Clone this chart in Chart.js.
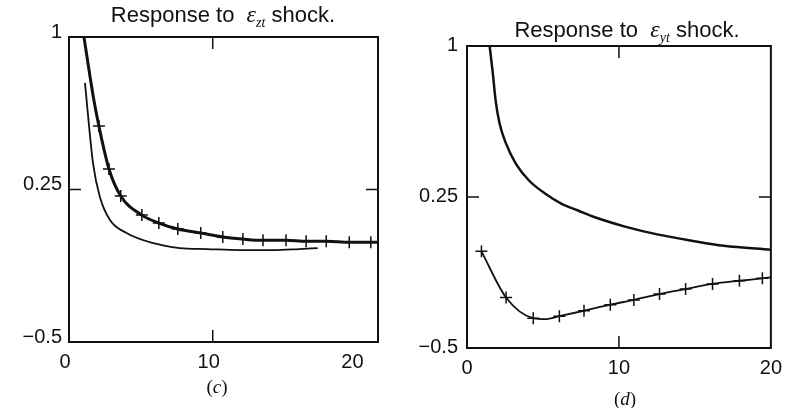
<!DOCTYPE html>
<html>
<head>
<meta charset="utf-8">
<script src="https://cdn.jsdelivr.net/npm/chart.js@4.4.1/dist/chart.umd.min.js"></script>
<style>
  html, body { margin: 0; padding: 0; background: #fff; }
  #wrap { position: relative; width: 790px; height: 408px; overflow: hidden; color: #111;
          font-family: "Liberation Sans", Arial, sans-serif; }
  .panel { position: absolute; top: 0; width: 395px; height: 408px; }
  .title { position: absolute; font-size: 22px; white-space: nowrap; transform: translate(-50%, -50%); }
  .eps { font-family: "Liberation Serif", serif; font-style: italic; font-size: 24px; }
  .title sub { font-family: "Liberation Serif", serif; font-style: italic; font-size: 14px; }
  .caption { position: absolute; font-family: "Liberation Serif", serif; font-size: 19px; transform: translate(-50%, -50%); }
  .caption i { font-style: italic; }
</style>
</head>
<body>
<div id="wrap">
  <canvas id="chart-c" class="panel" style="left:0" width="395" height="408"></canvas>
  <canvas id="chart-d" class="panel" style="left:395px" width="395" height="408"></canvas>
  <div class="title" style="left:223px; top:16px">Response to&nbsp; <span class="eps">ε</span><sub>zt</sub> shock.</div>
  <div class="title" style="left:627px; top:31px">Response to&nbsp; <span class="eps">ε</span><sub>yt</sub> shock.</div>
  <div class="caption" style="left:217px; top:387px">(<i>c</i>)</div>
  <div class="caption" style="left:625px; top:399px">(<i>d</i>)</div>
</div>
<script>
const xTicks = [0, 10, 20];
const yTicks = [-0.5, 0.25, 1];

// panel (c): response to e_zt shock
const cTopHeadX = [1.04, 1.69];
const cTopHeadY = [1.0, 0.706];
const cTopMarkX = [2.08, 2.78, 3.6, 5.07, 6.25, 7.57, 9.17, 10.7, 12.1, 13.5, 15.1, 16.5, 17.9, 19.5, 21.0];
const cTopMarkY = [0.562, 0.351, 0.218, 0.124, 0.085, 0.056, 0.036, 0.016, 0.006, 0.0, 0.0, -0.005, -0.005, -0.01, -0.01];
const cTopTailX = [21.5];
const cTopTailY = [-0.01];
const cLowX = [1.11, 1.67, 2.15, 2.85, 4.0, 5.8, 7.7, 9.6, 11.9, 14.2, 16.0, 17.3];
const cLowY = [0.774, 0.38, 0.213, 0.10, 0.036, -0.013, -0.038, -0.043, -0.048, -0.048, -0.043, -0.038];

// panel (d): response to e_yt shock
const dTopX = [1.49, 1.70, 1.88, 2.14, 2.57, 3.22, 4.08, 5.16, 6.23, 7.31, 8.28, 10.4, 12.6, 14.8, 16.9, 20.0];
const dTopY = [1.0, 0.864, 0.731, 0.616, 0.515, 0.415, 0.332, 0.266, 0.216, 0.183, 0.153, 0.103, 0.063, 0.033, 0.008, -0.012];
const dLowMarkX = [0.95, 2.57, 4.36, 6.08, 7.7, 9.43, 10.98, 12.67, 14.39, 16.16, 17.93, 19.44];
const dLowMarkY = [-0.02, -0.249, -0.352, -0.342, -0.315, -0.285, -0.261, -0.232, -0.207, -0.182, -0.166, -0.154];
const dLowMinX = [5.16];
const dLowMinY = [-0.357];
const dLowTailX = [20.0];
const dLowTailY = [-0.149];

const pts = (xs, ys) => xs.map((x, i) => ({ x: x, y: ys[i] }));
const ink = '#111';
const font = { family: '"Liberation Sans", Arial, sans-serif', size: 20 };

const framePlugin = {
  id: 'frame',
  afterDraw(chart) {
    const { ctx, chartArea: a, scales } = chart;
    const xm = scales.x.getPixelForValue(xTicks[1]);
    const ym = scales.y.getPixelForValue(yTicks[1]);
    ctx.save();
    ctx.strokeStyle = ink;
    ctx.lineWidth = 2;
    ctx.strokeRect(a.left, a.top, a.width, a.height);
    ctx.lineWidth = 1.5;
    ctx.beginPath();
    ctx.moveTo(xm, a.bottom); ctx.lineTo(xm, a.bottom - 12);
    ctx.moveTo(xm, a.top); ctx.lineTo(xm, a.top + 12);
    ctx.moveTo(a.left, ym); ctx.lineTo(a.left + 12, ym);
    ctx.moveTo(a.right, ym); ctx.lineTo(a.right - 12, ym);
    ctx.stroke();
    ctx.restore();
  }
};

function curve(data, width) {
  return {
    type: 'line', data: data, borderColor: ink, borderWidth: width,
    pointRadius: 0, cubicInterpolationMode: 'monotone', fill: false
  };
}

function marks(data) {
  return {
    type: 'scatter', data: data, showLine: false, pointStyle: 'cross',
    pointRadius: 6, borderColor: ink, borderWidth: 1.5
  };
}

function makeChart(id, datasets, box) {
  return new Chart(document.getElementById(id), {
    data: { datasets: datasets },
    plugins: [framePlugin],
    options: {
      responsive: false,
      animation: false,
      devicePixelRatio: 1,
      layout: { padding: { left: 0, right: box.right, top: box.top, bottom: box.bottom } },
      plugins: { legend: { display: false }, tooltip: { enabled: false } },
      scales: {
        x: {
          type: 'linear', min: 0, max: box.xMax,
          grid: { display: false, drawTicks: false }, border: { display: false },
          afterBuildTicks: s => { s.ticks = xTicks.map(v => ({ value: v })); },
          afterFit: s => { s.height = 40; },
          ticks: { color: ink, font: font, padding: 8, maxRotation: 0, autoSkip: false, labelOffset: box.xOff }
        },
        y: {
          type: 'linear', min: -0.5, max: 1,
          grid: { display: false, drawTicks: false }, border: { display: false },
          afterBuildTicks: s => { s.ticks = yTicks.map(v => ({ value: v })); },
          afterFit: s => { s.width = box.left; },
          ticks: {
            color: ink, font: font, padding: box.yPad, labelOffset: box.yOff,
            callback: v => String(v).replace('-', '\u2212')
          }
        }
      }
    }
  });
}

makeChart('chart-c', [
  curve(pts([...cTopHeadX, ...cTopMarkX, ...cTopTailX], [...cTopHeadY, ...cTopMarkY, ...cTopTailY]), 3),
  marks(pts(cTopMarkX, cTopMarkY)),
  curve(pts(cLowX, cLowY), 1.8)
], { left: 69, right: 17, top: 37, bottom: 26, xMax: 21.5, xOff: -4, yPad: 7, yOff: -5 });

const dLow = pts([...dLowMarkX, ...dLowMinX, ...dLowTailX], [...dLowMarkY, ...dLowMinY, ...dLowTailY])
  .sort((p, q) => p.x - q.x);

makeChart('chart-d', [
  curve(pts(dTopX, dTopY), 2.5),
  curve(dLow, 1.8),
  marks(pts(dLowMarkX, dLowMarkY))
], { left: 72, right: 14, top: 46, bottom: 20, xMax: 20, xOff: 0, yPad: 9, yOff: -1 });
</script>
</body>
</html>
